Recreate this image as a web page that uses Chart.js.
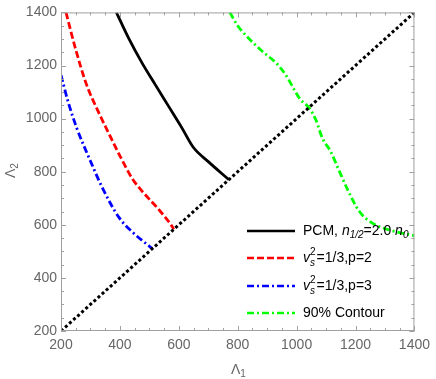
<!DOCTYPE html>
<html lang="en">
<head>
  <meta charset="UTF-8" />
  <title>Lambda1 vs Lambda2</title>
  <script src="https://cdn.jsdelivr.net/npm/chart.js@4.4.0/dist/chart.umd.min.js"></script>
  <style>
    html, body { margin: 0; padding: 0; background: #fff; }
    #wrap { width: 436px; height: 379px; position: relative; }
  </style>
</head>
<body>
  <div id="wrap"><canvas id="chart"></canvas></div>
  <script>
    // data (Λ1, Λ2)
    const pcmX = [388, 430, 475, 520, 565, 610, 649, 700, 770];
    const pcmY = [1400, 1302, 1210, 1128, 1047, 966, 892, 838, 770];
    const p2X = [217, 250, 287, 325, 364, 400, 441, 475, 530, 576, 583];
    const p2Y = [1400, 1260, 1127, 1030, 940, 860, 776, 727, 660, 596, 583];
    const p3X = [200, 225, 254, 300, 341, 398, 450, 498, 510];
    const p3Y = [1164, 1060, 963, 840, 738, 626, 565, 521, 510];
    const contX = [773, 800, 827, 887, 930, 961, 1011, 1045, 1065, 1088, 1115, 1145, 1172, 1212, 1256, 1323, 1400];
    const contY = [1400, 1350, 1314, 1250, 1210, 1168, 1075, 1037, 996, 925, 877, 802, 735, 652, 607, 578, 559];
    const diagX = [200, 1400];
    const diagY = [200, 1400];
    const tickVals = [200, 400, 600, 800, 1000, 1200, 1400];

    const pts = (xs, ys) => xs.map((x, i) => ({ x: x, y: ys[i] }));
    const FONT = '"Liberation Sans", Arial, sans-serif';

    const legendItems = [
      { color: '#000', dash: [], parts: [['PCM, ', 'n'], ['n', 'i'], ['1/2', 'sub'], ['=2.0 ', 'n'], ['n', 'i'], ['0', 'sub']] },
      { color: '#ff0000', dash: [7, 3], parts: [['v', 'vs'], ['=1/3,p=2', 'n']] },
      { color: '#0000ff', dash: [7, 3, 2, 3], parts: [['v', 'vs'], ['=1/3,p=3', 'n']] },
      { color: '#00ff00', dash: [7, 3, 2, 3], parts: [['90% Contour', 'n']] }
    ];

    function drawParts(ctx, parts, x, y) {
      ctx.textBaseline = 'middle';
      ctx.textAlign = 'left';
      ctx.fillStyle = '#000';
      for (const [t, k] of parts) {
        if (k === 'n') {
          ctx.font = '14px ' + FONT;
          ctx.fillText(t, x, y);
          x += ctx.measureText(t).width;
        } else if (k === 'i') {
          ctx.font = 'italic 14px ' + FONT;
          ctx.fillText(t, x, y);
          x += ctx.measureText(t).width;
        } else if (k === 'sub') {
          ctx.font = 'italic 10px ' + FONT;
          ctx.fillText(t, x, y + 4);
          x += ctx.measureText(t).width;
        } else if (k === 'vs') {
          ctx.font = 'italic 14px ' + FONT;
          ctx.fillText('v', x, y);
          x += ctx.measureText('v').width;
          ctx.font = '10px ' + FONT;
          ctx.fillText('2', x, y - 6);
          ctx.font = 'italic 10px ' + FONT;
          ctx.fillText('s', x, y + 5);
          x += ctx.measureText('2').width + 1;
        }
      }
    }

    const decor = {
      id: 'decor',
      afterDraw(chart) {
        const ctx = chart.ctx;
        const a = chart.chartArea;
        const xs = chart.scales.x, ys = chart.scales.y;
        ctx.save();
        // frame
        ctx.strokeStyle = '#a0a0a0';
        ctx.lineWidth = 1;
        ctx.strokeRect(a.left + 0.5, a.top + 0.5, a.right - a.left - 1, a.bottom - a.top - 1);
        // inward ticks
        ctx.beginPath();
        for (let v = 200; v <= 1400; v += 50) {
          const len = v % 200 === 0 ? 5 : 3;
          const px = Math.round(xs.getPixelForValue(v)) + 0.5;
          const py = Math.round(ys.getPixelForValue(v)) + 0.5;
          ctx.moveTo(px, a.bottom); ctx.lineTo(px, a.bottom - len);
          ctx.moveTo(px, a.top); ctx.lineTo(px, a.top + len);
          ctx.moveTo(a.left, py); ctx.lineTo(a.left + len, py);
          ctx.moveTo(a.right, py); ctx.lineTo(a.right - len, py);
        }
        ctx.stroke();
        // axis titles
        ctx.fillStyle = '#666';
        ctx.textBaseline = 'middle';
        ctx.font = '14px ' + FONT;
        ctx.textAlign = 'left';
        ctx.fillText('\u039B', 231, 370);
        const lw = ctx.measureText('\u039B').width;
        ctx.font = '10px ' + FONT;
        ctx.fillText('1', 231 + lw, 374);
        ctx.save();
        ctx.translate(11, 178);
        ctx.rotate(-Math.PI / 2);
        ctx.font = '14px ' + FONT;
        ctx.fillText('\u039B', 0, 0);
        ctx.font = '10px ' + FONT;
        ctx.fillText('2', lw, 4);
        ctx.restore();
        // legend
        legendItems.forEach((it, i) => {
          const y = [231, 258, 286, 313][i];
          ctx.strokeStyle = it.color;
          ctx.lineWidth = 2.5;
          ctx.setLineDash(it.dash);
          ctx.beginPath();
          ctx.moveTo(247, y); ctx.lineTo(295, y);
          ctx.stroke();
          ctx.setLineDash([]);
          drawParts(ctx, it.parts, 303, y);
        });
        ctx.restore();
      }
    };

    const line = (data, color, dash, width) => ({
      data: data,
      showLine: true,
      borderColor: color,
      borderWidth: width,
      borderDash: dash,
      pointRadius: 0,
      fill: false,
      cubicInterpolationMode: 'monotone'
    });

    new Chart(document.getElementById('chart'), {
      type: 'scatter',
      data: {
        datasets: [
          line(pts(diagX, diagY), '#000', [3, 2.5], 3),
          line(pts(pcmX, pcmY), '#000', [], 2.8),
          line(pts(p2X, p2Y), '#ff0000', [7, 3], 2.8),
          line(pts(p3X, p3Y), '#0000ff', [7, 3, 2, 3], 2.8),
          line(pts(contX, contY), '#00ff00', [7, 3, 2, 3], 2.8)
        ]
      },
      options: {
        responsive: true,
        maintainAspectRatio: false,
        animation: false,
        layout: { padding: { left: 0, right: 17, top: 10, bottom: 0 } },
        plugins: { legend: { display: false }, tooltip: { enabled: false } },
        scales: {
          x: {
            type: 'linear', min: 200, max: 1400,
            afterBuildTicks: s => { s.ticks = tickVals.map(v => ({ value: v })); },
            afterFit: s => { s.height = 48; },
            grid: { display: false, drawTicks: false },
            border: { display: false },
            ticks: { color: '#666', padding: 6, maxRotation: 0, callback: v => String(v), font: { size: 14, family: FONT } }
          },
          y: {
            type: 'linear', min: 200, max: 1400,
            afterBuildTicks: s => { s.ticks = tickVals.map(v => ({ value: v })); },
            afterFit: s => { s.width = 61; },
            grid: { display: false, drawTicks: false },
            border: { display: false },
            ticks: { color: '#666', padding: 4, callback: v => String(v), font: { size: 14, family: FONT } }
          }
        }
      },
      plugins: [decor]
    });
  </script>
</body>
</html>
